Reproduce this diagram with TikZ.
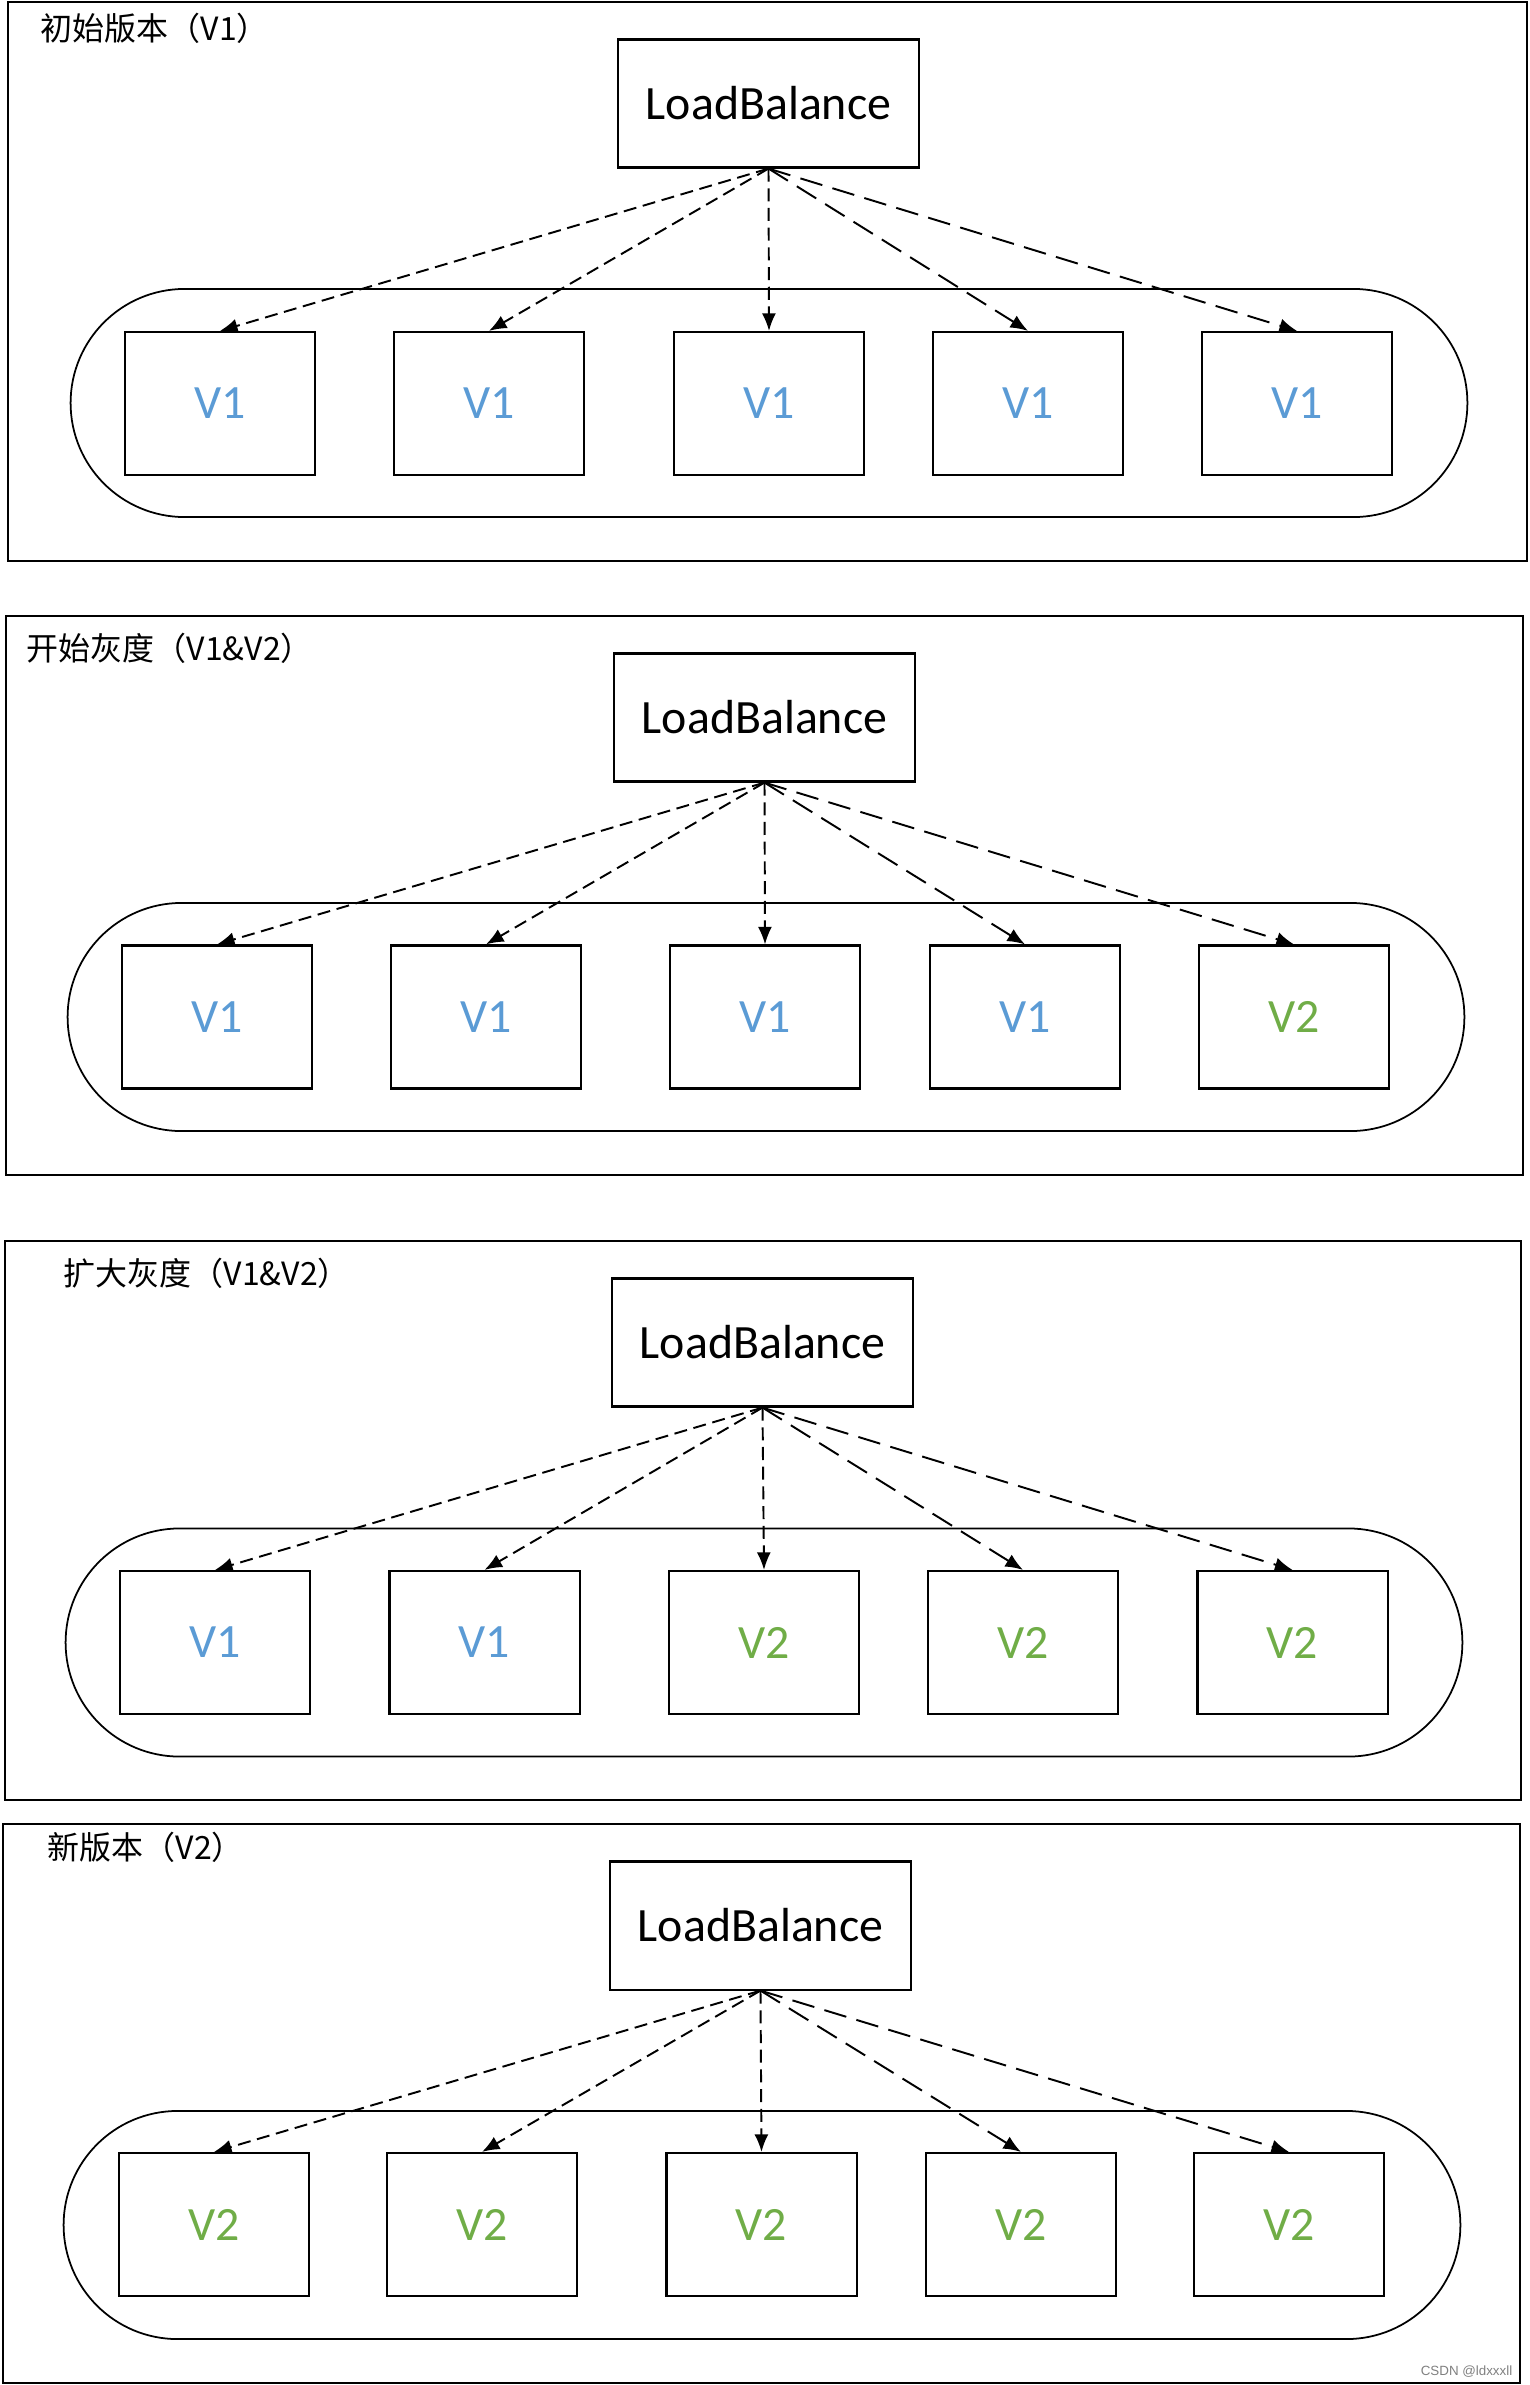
\documentclass[tikz,border=0pt]{standalone}
\usepackage{fontspec}
\setmainfont{Carlito}
\newfontfamily\cjk{Noto Sans CJK SC}
\usetikzlibrary{arrows.meta}
\definecolor{vone}{HTML}{5B9BD5}
\definecolor{vtwo}{HTML}{70AD47}

\begin{document}
\begin{tikzpicture}[
    x=0.01cm, y=-0.01cm,
    lb/.style={rectangle, draw, line width=0.6pt, minimum width=3.01cm, minimum height=1.28cm, font=\fontsize{13.6}{16}\selectfont},
    srv/.style={rectangle, draw, line width=0.6pt, minimum width=1.90cm, minimum height=1.43cm, font=\fontsize{13.6}{16}\selectfont},
    pool/.style={rectangle, draw, line width=0.5pt, rounded corners=1.14cm, minimum width=13.96cm, minimum height=2.28cm},
    frame/.style={draw, line width=0.6pt},
    caption/.style={anchor=west, inner sep=0pt, font=\cjk\fontsize{9.1}{11}\selectfont},
    arrshort/.style={-{Latex[length=5pt,width=4pt]}, line width=0.55pt, dash pattern=on 3.7pt off 1.9pt},
    arrlong/.style={-{Latex[length=5pt,width=4pt]}, line width=0.55pt, dash pattern=on 6.5pt off 3pt}
]
\useasboundingbox (0,0) rectangle (1529,2385);

% Erster Abschnitt: Ausgangsversion
\draw[frame] (8,2) rectangle (1527,561);
\node[caption] at (40,28) (capA) {初始版本（V1）};
\node[lb] at (768.5,103.5) (lbA) {LoadBalance};
\node[pool] at (769,403) (poolA) {};
\node[srv, text=vone] at (220,403.5) (a1) {V1};
\node[srv, text=vone] at (489,403.5) (a2) {V1};
\node[srv, text=vone] at (769,403.5) (a3) {V1};
\node[srv, text=vone] at (1028,403.5) (a4) {V1};
\node[srv, text=vone] at (1297,403.5) (a5) {V1};
\draw[arrshort] (lbA.south) -- (a1.north);
\draw[arrshort] (lbA.south) -- (a2.north);
\draw[arrshort] (lbA.south) -- (a3.north);
\draw[arrlong] (lbA.south) -- (a4.north);
\draw[arrlong] (lbA.south) -- (a5.north);

% Zweiter Abschnitt: Beginn der Umstellung
\draw[frame] (6,616) rectangle (1523,1175);
\node[caption] at (26,648) (capB) {开始灰度（V1\&V2）};
\node[lb] at (764.5,717.5) (lbB) {LoadBalance};
\node[pool] at (766,1017) (poolB) {};
\node[srv, text=vone] at (217,1017) (b1) {V1};
\node[srv, text=vone] at (486,1017) (b2) {V1};
\node[srv, text=vone] at (765,1017) (b3) {V1};
\node[srv, text=vone] at (1025,1017) (b4) {V1};
\node[srv, text=vtwo] at (1294,1017) (b5) {V2};
\draw[arrshort] (lbB.south) -- (b1.north);
\draw[arrshort] (lbB.south) -- (b2.north);
\draw[arrshort] (lbB.south) -- (b3.north);
\draw[arrlong] (lbB.south) -- (b4.north);
\draw[arrlong] (lbB.south) -- (b5.north);

% Dritter Abschnitt: erweiterte Umstellung
\draw[frame] (5,1241) rectangle (1521,1800);
\node[caption] at (63,1273) (capC) {扩大灰度（V1\&V2）};
\node[lb] at (762.5,1342.5) (lbC) {LoadBalance};
\node[pool] at (764,1642.5) (poolC) {};
\node[srv, text=vone] at (215,1642.5) (c1) {V1};
\node[srv, text=vone] at (484.5,1642.5) (c2) {V1};
\node[srv, text=vtwo] at (764,1642.5) (c3) {V2};
\node[srv, text=vtwo] at (1023,1642.5) (c4) {V2};
\node[srv, text=vtwo] at (1292.5,1642.5) (c5) {V2};
\draw[arrshort] (lbC.south) -- (c1.north);
\draw[arrshort] (lbC.south) -- (c2.north);
\draw[arrshort] (lbC.south) -- (c3.north);
\draw[arrlong] (lbC.south) -- (c4.north);
\draw[arrlong] (lbC.south) -- (c5.north);

% Vierter Abschnitt: neue Version
\draw[frame] (3,1824) rectangle (1520,2383);
\node[caption] at (47,1847) (capD) {新版本（V2）};
\node[lb] at (760.5,1925.5) (lbD) {LoadBalance};
\node[pool] at (762,2225) (poolD) {};
\node[srv, text=vtwo] at (214,2224.5) (d1) {V2};
\node[srv, text=vtwo] at (482,2224.5) (d2) {V2};
\node[srv, text=vtwo] at (761.5,2224.5) (d3) {V2};
\node[srv, text=vtwo] at (1021,2224.5) (d4) {V2};
\node[srv, text=vtwo] at (1289,2224.5) (d5) {V2};
\draw[arrshort] (lbD.south) -- (d1.north);
\draw[arrshort] (lbD.south) -- (d2.north);
\draw[arrshort] (lbD.south) -- (d3.north);
\draw[arrlong] (lbD.south) -- (d4.north);
\draw[arrlong] (lbD.south) -- (d5.north);

% Wasserzeichen
\node[anchor=east, inner sep=0pt, text=gray, font=\fontspec{Liberation Sans}\fontsize{3.8}{4.5}\selectfont] at (1513,2372) (mark) {CSDN @ldxxxll};
\end{tikzpicture}
\end{document}
